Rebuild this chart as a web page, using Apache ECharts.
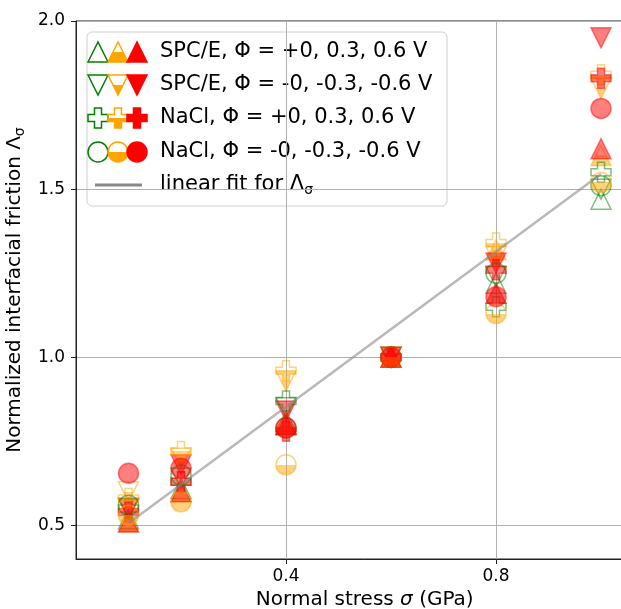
<!DOCTYPE html>
<html>
<head>
<meta charset="utf-8">
<script src="https://cdn.jsdelivr.net/npm/echarts@6/dist/echarts.min.js"></script>
<style>
html, body { margin: 0; padding: 0; background: #fff; overflow: hidden; }
#box { width: 660px; height: 609px; }
</style>
</head>
<body>
<div id="box"></div>
<script>
// normal stress (GPa)
var sigma = [0.1, 0.2, 0.4, 0.6, 0.8, 1.0];

// SPC/E, positive potential: +0, 0.3, 0.6 V
var spcePos0 = [0.52, 0.61, 0.81, 1.0, 1.22, 1.47];
var spcePos3 = [0.51, 0.60, 0.80, 1.0, 1.32, 1.60];
var spcePos6 = [0.51, 0.60, 0.80, 1.0, 1.19, 1.62];
// SPC/E, negative potential: -0, -0.3, -0.6 V
var spceNeg0 = [0.55, 0.64, 0.85, 1.0, 1.24, 1.50];
var spceNeg3 = [0.60, 0.70, 0.93, 1.0, 1.30, 1.80];
var spceNeg6 = [0.55, 0.68, 0.84, 1.0, 1.28, 1.95];
// NaCl, positive potential
var naclPos0 = [0.55, 0.63, 0.87, 1.0, 1.15, 1.55];
var naclPos3 = [0.58, 0.72, 0.96, 1.0, 1.34, 1.84];
var naclPos6 = [0.54, 0.63, 0.78, 1.0, 1.26, 1.83];
// NaCl, negative potential
var naclNeg0 = [0.56, 0.65, 0.79, 1.0, 1.25, 1.51];
var naclNeg3 = [0.53, 0.57, 0.68, 1.0, 1.13, 1.52];
var naclNeg6 = [0.655, 0.67, 0.79, 1.0, 1.18, 1.74];

// linear fit
var fitX = [0.1, 1.0];
var fitY = [0.506, 1.545];

var xTicks = [0.4, 0.8];
var yTicks = [0.5, 1.0, 1.5, 2.0];

var legendLabels = [
    'SPC/E, Φ = +0, 0.3, 0.6 V',
    'SPC/E, Φ = -0, -0.3, -0.6 V',
    'NaCl, Φ = +0, 0.3, 0.6 V',
    'NaCl, Φ = -0, -0.3, -0.6 V'
];

var green = '#008000', orange = '#ffa500', red = '#ff0000';
var font = 'DejaVu Sans';

var triDown = 'path://M0,0L20,0L10,20Z';
var plus = 'path://M6.5,0H13.5V6.5H20V13.5H13.5V20H6.5V13.5H0V6.5H6.5Z';

function halfFill(c) {
    return new echarts.graphic.LinearGradient(0, 0, 0, 1, [
        {offset: 0, color: 'rgba(255,255,255,0)'},
        {offset: 0.5, color: 'rgba(255,255,255,0)'},
        {offset: 0.5, color: c},
        {offset: 1, color: c}
    ]);
}

var openStyle = {color: 'rgba(255,255,255,0)', borderColor: green};
var halfStyle = {color: halfFill(orange), borderColor: orange};
var fullStyle = {color: red, borderColor: red};

function pairs(xs, ys) {
    return xs.map(function (x, i) { return [x, ys[i]]; });
}

function scatter(ys, symbol, style) {
    return {
        type: 'scatter',
        data: pairs(sigma, ys),
        symbol: symbol,
        symbolSize: 20,
        itemStyle: Object.assign({opacity: 0.5, borderWidth: 1.5}, style),
        emphasis: {disabled: true},
        z: 3
    };
}

// legend drawn by hand (three markers per row)
var rowY = [52, 85, 118, 152, 185];
var iconX = [98, 118, 137];

function triUpIcon(cx, cy, style) {
    return {type: 'polygon', shape: {points: [[cx - 10, cy + 10], [cx, cy - 10], [cx + 10, cy + 10]]}, style: style};
}
function triDownIcon(cx, cy, style) {
    return {type: 'polygon', shape: {points: [[cx - 10, cy - 10], [cx + 10, cy - 10], [cx, cy + 10]]}, style: style};
}
function plusIcon(cx, cy, style) {
    var a = 3.5, s = 10;
    return {type: 'polygon', shape: {points: [
        [cx - a, cy - s], [cx + a, cy - s], [cx + a, cy - a], [cx + s, cy - a], [cx + s, cy + a],
        [cx + a, cy + a], [cx + a, cy + s], [cx - a, cy + s], [cx - a, cy + a], [cx - s, cy + a],
        [cx - s, cy - a], [cx - a, cy - a]
    ]}, style: style};
}
function circleIcon(cx, cy, style) {
    return {type: 'circle', shape: {cx: cx, cy: cy, r: 10}, style: style};
}

var iconStyles = [
    {fill: 'rgba(255,255,255,0)', stroke: green, lineWidth: 1.5},
    {fill: halfFill(orange), stroke: orange, lineWidth: 1.5},
    {fill: red, stroke: red, lineWidth: 1.5}
];
var iconMakers = [triUpIcon, triDownIcon, plusIcon, circleIcon];

var legendEls = [{
    type: 'rect',
    shape: {x: 87, y: 32, width: 360, height: 174, r: 5},
    style: {fill: 'rgba(255,255,255,0.8)', stroke: '#d0d0d0', lineWidth: 1}
}];
iconMakers.forEach(function (mk, r) {
    iconX.forEach(function (x, k) {
        legendEls.push(mk(x, rowY[r], iconStyles[k]));
    });
    legendEls.push({
        type: 'text',
        style: {x: 160, y: rowY[r], text: legendLabels[r], fill: '#000', font: '21px "DejaVu Sans"', verticalAlign: 'middle'}
    });
});
legendEls.push({
    type: 'line',
    shape: {x1: 95, y1: rowY[4], x2: 142, y2: rowY[4]},
    style: {stroke: '#888', lineWidth: 3}
});
legendEls.push({
    type: 'text',
    style: {
        x: 160, y: rowY[4], text: 'linear fit for Λ{s|σ}', fill: '#000',
        font: '21px "DejaVu Sans"', verticalAlign: 'middle',
        rich: {s: {fontSize: 14, fontFamily: font, padding: [10, 0, 0, 0]}}
    }
});

var myChart = echarts.init(document.getElementById('box'));

var option = {
    animation: false,
    backgroundColor: '#fff',
    grid: {
        left: 76, top: 21, bottom: 50, right: 6.5,
        containLabel: false, outerBoundsMode: 'none',
        show: true, borderColor: '#222', borderWidth: 1
    },
    xAxis: {
        type: 'value',
        min: 0,
        max: 1.1,
        name: 'Normal stress {it|σ} (GPa)',
        nameLocation: 'middle',
        nameGap: 31,
        nameTextStyle: {fontFamily: font, fontSize: 20, color: '#000', rich: {it: {fontStyle: 'italic', fontFamily: font, fontSize: 20}}},
        axisLine: {lineStyle: {color: '#222', width: 1}},
        axisTick: {customValues: xTicks, length: 5, lineStyle: {color: '#222'}},
        axisLabel: {customValues: xTicks, fontFamily: font, fontSize: 17, color: '#000', margin: 9,
            formatter: function (v) { return v.toFixed(1); }},
        splitLine: {show: true, lineStyle: {color: '#b0b0b0', width: 1}}
    },
    yAxis: {
        type: 'value',
        min: 0.4,
        max: 2.0,
        name: 'Normalized interfacial friction Λ{s|σ}',
        nameLocation: 'middle',
        nameGap: 29,
        nameTextStyle: {fontFamily: font, fontSize: 20, color: '#000', rich: {s: {fontSize: 14, fontFamily: font, padding: [10, 0, 0, 0]}}},
        axisLine: {show: true, lineStyle: {color: '#222', width: 1}},
        axisTick: {show: true, customValues: yTicks, length: 5, lineStyle: {color: '#222'}},
        axisLabel: {customValues: yTicks, fontFamily: font, fontSize: 17, color: '#000', margin: 11,
            formatter: function (v) { return v.toFixed(1); }},
        splitLine: {show: true, lineStyle: {color: '#b0b0b0', width: 1}}
    },
    graphic: [{type: 'group', z: 100, children: legendEls}],
    series: [
        scatter(spcePos0, 'triangle', openStyle),
        scatter(spcePos3, 'triangle', halfStyle),
        scatter(spcePos6, 'triangle', fullStyle),
        scatter(spceNeg0, triDown, openStyle),
        scatter(spceNeg3, triDown, halfStyle),
        scatter(spceNeg6, triDown, fullStyle),
        scatter(naclPos0, plus, openStyle),
        scatter(naclPos3, plus, halfStyle),
        scatter(naclPos6, plus, fullStyle),
        scatter(naclNeg0, 'circle', openStyle),
        scatter(naclNeg3, 'circle', halfStyle),
        scatter(naclNeg6, 'circle', fullStyle),
        {
            type: 'line',
            data: pairs(fitX, fitY),
            symbol: 'none',
            lineStyle: {color: '#8a8a8a', width: 2.5, opacity: 0.6},
            emphasis: {disabled: true},
            z: 4
        }
    ]
};

if (option && typeof option === "object") {
    myChart.setOption(option, true);
}
</script>
</body>
</html>
